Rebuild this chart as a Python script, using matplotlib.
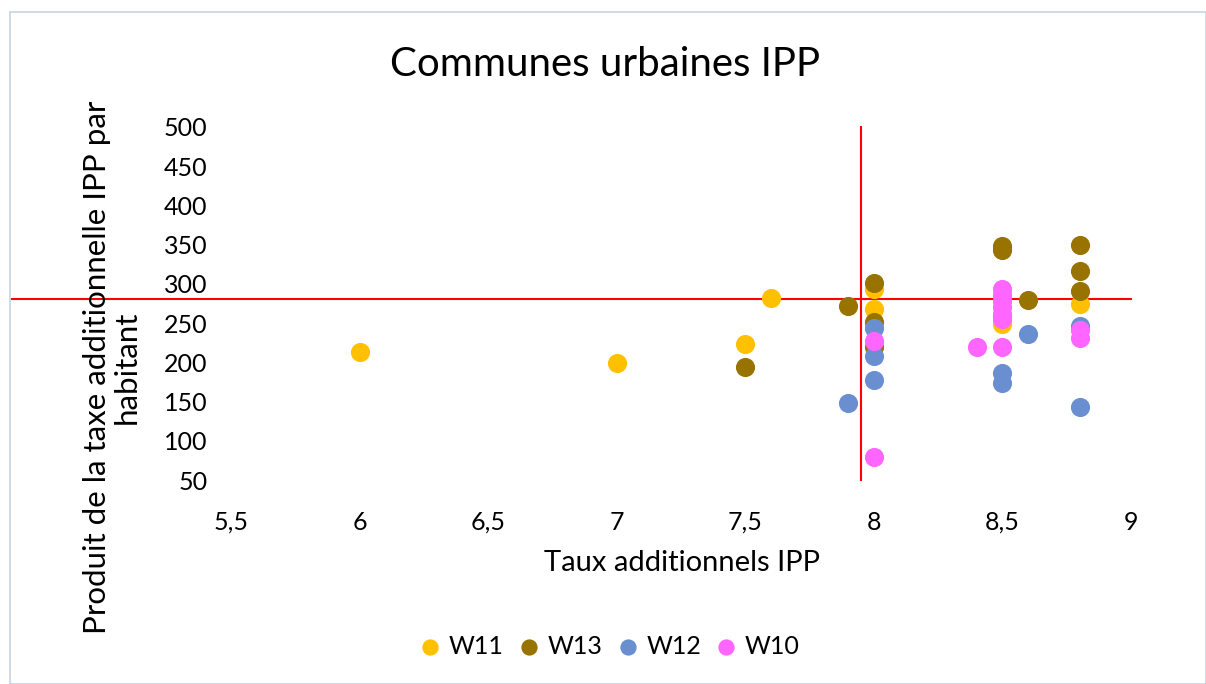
import matplotlib
matplotlib.use('Agg')
import matplotlib.pyplot as plt
from matplotlib.patches import Rectangle

plt.rcParams['font.family'] = ['Lato', 'DejaVu Sans']

# data
w11_x = [6, 7, 7.5, 7.6, 8, 8, 8.5, 8.8]
w11_y = [213, 199, 223, 282, 294, 268, 249, 275]
w13_x = [7.5, 7.9, 8, 8, 8, 8.5, 8.5, 8.5, 8.6, 8.8, 8.8, 8.8]
w13_y = [194, 272, 301, 251, 220, 348, 343, 259, 279, 349, 317, 291]
w12_x = [7.9, 8, 8, 8, 8.5, 8.5, 8.6, 8.8, 8.8]
w12_y = [148, 244, 208, 177, 186, 174, 236, 246, 143]
w10_x = [8, 8, 8.4, 8.5, 8.5, 8.5, 8.5, 8.5, 8.5, 8.5, 8.8, 8.8]
w10_y = [227, 79, 220, 293, 286, 278, 270, 262, 255, 220, 241, 231]

mean_taux = 7.95
mean_produit = 281

x_ticks = [5.5, 6, 6.5, 7, 7.5, 8, 8.5, 9]
y_ticks = [50, 100, 150, 200, 250, 300, 350, 400, 450, 500]

fig = plt.figure(figsize=(12.06, 6.84), dpi=100)
ax = fig.add_axes([231 / 1206, 1 - 480 / 684, 900 / 1206, 353 / 684])

series = [('W11', w11_x, w11_y, '#FFC000'),
          ('W13', w13_x, w13_y, '#997300'),
          ('W12', w12_x, w12_y, '#6A8FD0'),
          ('W10', w10_x, w10_y, '#FF66FF')]
for name, xs, ys, col in series:
    ax.scatter(xs, ys, s=190, color=col, label=name, zorder=3, linewidths=0)

# red reference lines
ax.plot([4.65, 9], [mean_produit, mean_produit], color='red', lw=1.5, clip_on=False, zorder=2)
ax.plot([mean_taux, mean_taux], [50, 500], color='red', lw=1.5, clip_on=False, zorder=2)

ax.set_xlim(5.5, 9)
ax.set_ylim(50, 500)
ax.set_xticks(x_ticks)
ax.set_xticklabels([('%g' % v).replace('.', ',') for v in x_ticks])
ax.set_yticks(y_ticks)
ax.tick_params(labelsize=18, length=0, colors='#000000')
ax.tick_params(axis='y', pad=17)
ax.tick_params(axis='x', pad=22)
for s in ax.spines.values():
    s.set_visible(False)

fig.text(605 / 1206, 1 - 65 / 684, 'Communes urbaines IPP', ha='center', va='center', fontsize=29)
fig.text(682 / 1206, 1 - 563 / 684, 'Taux additionnels IPP', ha='center', va='center', fontsize=21)
fig.text(112 / 1206, 1 - 367 / 684, 'Produit de la taxe additionnelle IPP par\nhabitant',
         ha='center', va='center', rotation=90, fontsize=22.5, linespacing=1.05)

leg = fig.legend(loc='center', bbox_to_anchor=(610 / 1206, 1 - 646 / 684), ncol=4, frameon=False,
                 fontsize=18, handlelength=0.8, handletextpad=0.35, columnspacing=0.6,
                 markerscale=0.85)

fig.patches.append(Rectangle((10 / 1206, 0), 1 - 10 / 1206, 1 - 12 / 684, transform=fig.transFigure,
                             fill=False, edgecolor='#C9D3DF', lw=1.2))

fig.savefig('out.png', dpi=100)
